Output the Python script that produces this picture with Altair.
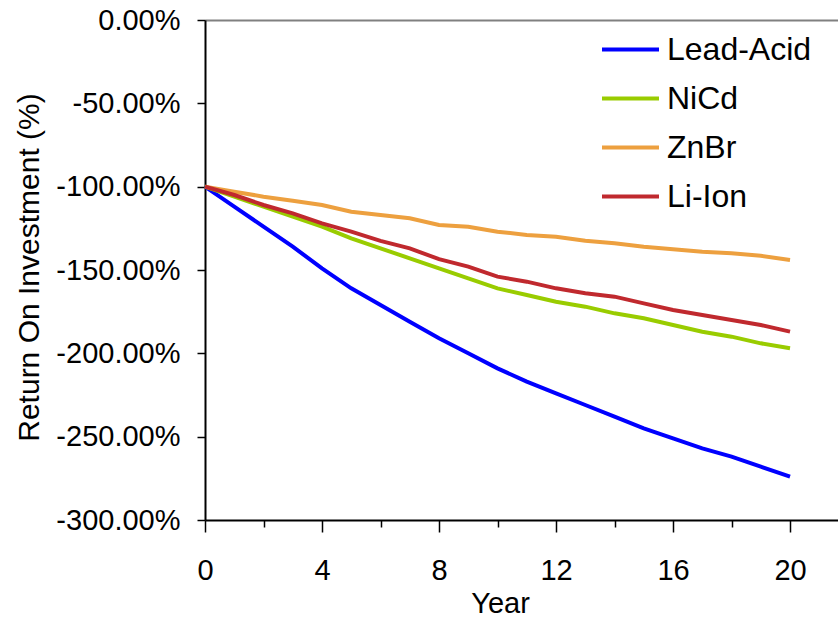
import altair as alt
import pandas as pd

# Return on investment (%) by year for each battery technology
years = list(range(21))
lead_acid = [-100, -112, -124, -136, -149, -161, -171, -181, -191, -200, -209,
             -217, -224, -231, -238, -245, -251, -257, -262, -268, -274]
nicd = [-100, -106, -112, -118, -124, -131, -137, -143, -149, -155, -161,
        -165, -169, -172, -176, -179, -183, -187, -190, -194, -197]
znbr = [-100, -103, -106, -108.5, -111, -115, -117, -119, -123, -124, -127,
        -129, -130, -132.5, -134, -136, -137.5, -139, -140, -141.5, -144]
li_ion = [-100, -105, -111, -116, -122, -127, -132.5, -137, -143.5, -148, -154,
          -157, -161, -164, -166, -170, -174, -177, -180, -183, -187]

series_names = ["Lead-Acid", "NiCd", "ZnBr", "Li-Ion"]
series_colors = ["#0000FF", "#99CC00", "#EDA03F", "#C0292E"]
y_ticks = [0, -50, -100, -150, -200, -250, -300]
x_ticks = list(range(0, 21, 2))

rows = []
for name, vals in zip(series_names, [lead_acid, nicd, znbr, li_ion]):
    for yr, v in zip(years, vals):
        rows.append({"Year": yr, "ROI": v, "Battery": name})
df = pd.DataFrame(rows)

FONT = "Liberation Sans"

chart = alt.Chart(df).mark_line(strokeWidth=4).encode(
    x=alt.X(
        "Year:Q",
        scale=alt.Scale(domain=[0, 21.64], nice=False, zero=False),
        axis=alt.Axis(
            values=x_ticks,
            labelExpr="datum.value % 4 === 0 ? datum.label : ''",
            labelFlush=False,
            tickSize={"condition": {"test": "datum.value % 4 === 0", "value": 12}, "value": 7},
            tickColor="black",
            tickWidth=1.5,
            domainColor="black",
            domainWidth=2,
            grid=False,
            labelFontSize=29,
            labelPadding=24,
            labelColor="black",
            labelFont=FONT,
            title="Year",
            titleFont=FONT,
            titleFontSize=29,
            titleFontWeight="normal",
            titleColor="black",
            titleX=295,
            titleY=92,
            titleAnchor="middle",
            titleAlign="center",
            titleBaseline="alphabetic",
        ),
    ),
    y=alt.Y(
        "ROI:Q",
        scale=alt.Scale(domain=[-300, 0], nice=False),
        axis=alt.Axis(
            values=y_ticks,
            labelExpr="(datum.value < 0 ? '-' : '') + format(abs(datum.value), '.2f') + '%'",
            labelFlush=False,
            tickSize=8,
            tickColor="black",
            tickWidth=1.5,
            domainColor="black",
            domainWidth=2,
            grid=True,
            gridColor="#808080",
            gridWidth=2,
            gridOpacity={"condition": {"test": "datum.value === 0", "value": 1}, "value": 0},
            labelFontSize=29,
            labelPadding=17,
            labelColor="black",
            labelFont=FONT,
            title="Return On Investment (%)",
            titleFont=FONT,
            titleFontSize=30,
            titleFontWeight="normal",
            titleColor="black",
            titleAngle=-90,
            titleX=-176,
            titleY=247,
            titleAlign="center",
            titleBaseline="middle",
        ),
    ),
    color=alt.Color(
        "Battery:N",
        scale=alt.Scale(domain=series_names, range=series_colors),
        sort=series_names,
        legend=alt.Legend(
            title=None,
            orient="none",
            legendX=395,
            legendY=-1,
            symbolType="stroke",
            symbolSize=3249,
            symbolStrokeWidth=4,
            labelFontSize=32,
            labelFont=FONT,
            labelColor="black",
            labelOffset=6,
            rowPadding=2,
        ),
    ),
    order=alt.Order("Battery:N"),
).properties(
    width=633,
    height=500,
    autosize=alt.AutoSizeParams(type="none"),
    padding={"left": 205, "top": 20, "right": 0, "bottom": 103},
).configure_view(
    stroke=None
).configure(
    background="white"
)

chart.save("out.html", embed_options={"renderer": "svg", "actions": False})
